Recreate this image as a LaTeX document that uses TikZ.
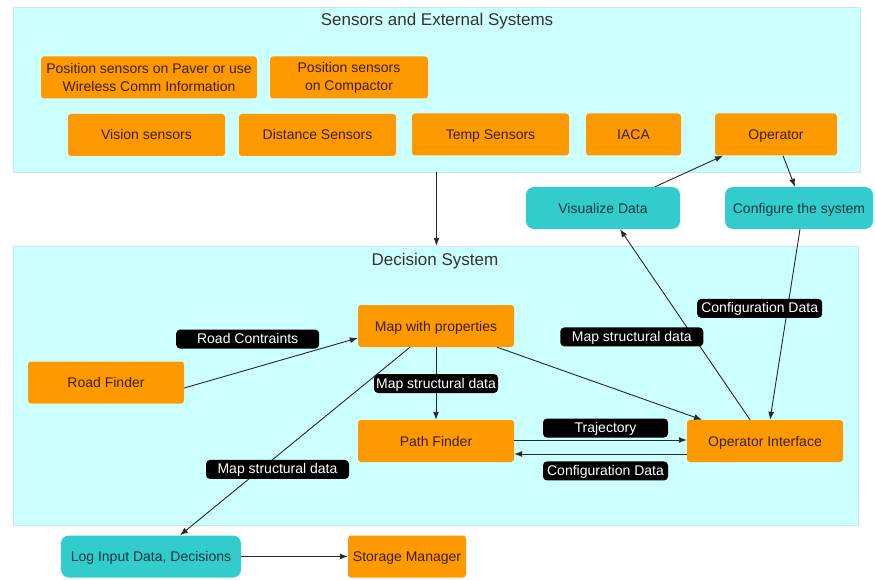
\documentclass[tikz,border=0pt]{standalone}
\usepackage{fontspec}
\setmainfont{Liberation Sans}
\usetikzlibrary{arrows.meta}

\definecolor{panelcyan}{RGB}{204,255,255}
\definecolor{boxorange}{RGB}{255,153,0}
\definecolor{boxteal}{RGB}{51,204,204}
\definecolor{boxtext}{RGB}{60,30,0}
\definecolor{tealtext}{RGB}{10,55,65}
\definecolor{linegray}{RGB}{40,40,40}

\tikzset{
  panel/.style={rectangle, fill=panelcyan, draw=panelcyan!85!gray, inner sep=0pt},
  paneltitle/.style={font=\fontsize{17}{20}\selectfont, text=black!80},
  box/.style={rectangle, rounded corners=3pt, fill=boxorange, text=boxtext,
    minimum height=42pt, inner sep=2pt, align=center,
    font=\fontsize{14}{18}\selectfont},
  block/.style={box, text height=12pt, text depth=2pt},
  tealblock/.style={block, fill=boxteal, text=tealtext, rounded corners=8pt},
  tag/.style={rectangle, fill=black, text=white, rounded corners=4pt,
    minimum width=125pt, minimum height=19pt, inner sep=1pt,
    text height=11pt, text depth=2pt, font=\fontsize{14}{16}\selectfont},
  flow/.style={draw=linegray, line width=0.9pt, -{Latex[length=8pt,width=6pt]}},
}

\begin{document}
\begin{tikzpicture}[x=1pt, y=-1pt]
    \useasboundingbox (0,0) rectangle (875,580);

    % Panels
    \node[panel, minimum width=847pt, minimum height=165pt] (sensors) at (436.5,89.5) {};
    \node[panel, minimum width=845pt, minimum height=279pt] (decision) at (435.5,385.5) {};
    \node[paneltitle] (sensorstitle) at (437,21) {Sensors and External Systems};
    \node[paneltitle] (decisiontitle) at (435,261) {Decision System};

    % Sensors
    \node[box, minimum width=216pt] (pospaver) at (149,77.5)
        {Position sensors on Paver or use\\Wireless Comm Information};
    \node[box, minimum width=158pt] (poscomp) at (349,77.5)
        {Position sensors\\on Compactor};
    \node[block, minimum width=157pt] (vision) at (146.5,135) {Vision sensors};
    \node[block, minimum width=157pt] (distance) at (317.5,135) {Distance Sensors};
    \node[block, minimum width=157pt] (temp) at (490.5,134.5) {Temp Sensors};
    \node[block, minimum width=95pt] (iaca) at (633.5,134.5) {IACA};
    \node[block, minimum width=122pt] (operator) at (776,134.5) {Operator};

    % Operator side
    \node[tealblock, minimum width=154pt] (visualize) at (603,208) {Visualize Data};
    \node[tealblock, minimum width=148pt] (configure) at (799,208) {Configure the system};

    % Decision system
    \node[block, minimum width=156pt] (map) at (436,326) {Map with properties};
    \node[block, minimum width=156pt] (roadfinder) at (106,382.5) {Road Finder};
    \node[block, minimum width=156pt] (pathfinder) at (436,441) {Path Finder};
    \node[block, minimum width=156pt] (opiface) at (765,441) {Operator Interface};

    % Logging
    \node[tealblock, minimum width=180pt] (log) at (151,556.5) {Log Input Data, Decisions};
    \node[block, minimum width=118pt] (storage) at (407,556.5) {Storage Manager};

    % Connectors
    \draw[flow] (sensors.south) -- (sensors.south |- decision.north);
    \draw[flow] ([xshift=52pt]visualize.north) -- ([xshift=-53pt]operator.south);
    \draw[flow] ([xshift=7pt]operator.south) -- ([xshift=-4pt]configure.north);

    \draw[flow] ([yshift=-5.5pt]roadfinder.east) -- ([yshift=-12pt]map.west)
        node[tag, minimum width=143pt, anchor=south east, pos=0.78] (roadtag) {Road Contraints};
    \draw[flow] (map.south) -- (pathfinder.north)
        node[tag, midway, minimum width=124pt] (maptag) {Map structural data};
    \draw[flow] ([xshift=-26pt]map.south) -- ([xshift=29pt]log.north)
        node[tag, minimum width=143pt, pos=0.65, xshift=17pt] (logtag) {Map structural data};
    \draw[flow] ([xshift=61pt]map.south) -- ([xshift=-63pt]opiface.north);

    \draw[flow] ([yshift=1pt]pathfinder.east) -- ([yshift=1pt]opiface.west)
        node[tag, midway, above=2pt, xshift=5pt] (trajtag) {Trajectory};
    \draw[flow] ([yshift=-13pt]opiface.west) -- ([yshift=-13pt]pathfinder.east)
        node[tag, midway, below=7pt, xshift=5pt] (conftag) {Configuration Data};

    \draw[flow] ([xshift=-15pt]opiface.north) -- ([xshift=17pt]visualize.south)
        node[tag, minimum width=143pt, pos=0.44, xshift=-61pt, yshift=-1pt] (vistag) {Map structural data};
    \draw[flow] ([xshift=1pt]configure.south) -- ([xshift=5pt]opiface.north)
        node[tag, pos=0.41, xshift=-28pt, yshift=-1pt] (cfgtag) {Configuration Data};

    \draw[flow] (log.east) -- (storage.west);
\end{tikzpicture}
\end{document}
